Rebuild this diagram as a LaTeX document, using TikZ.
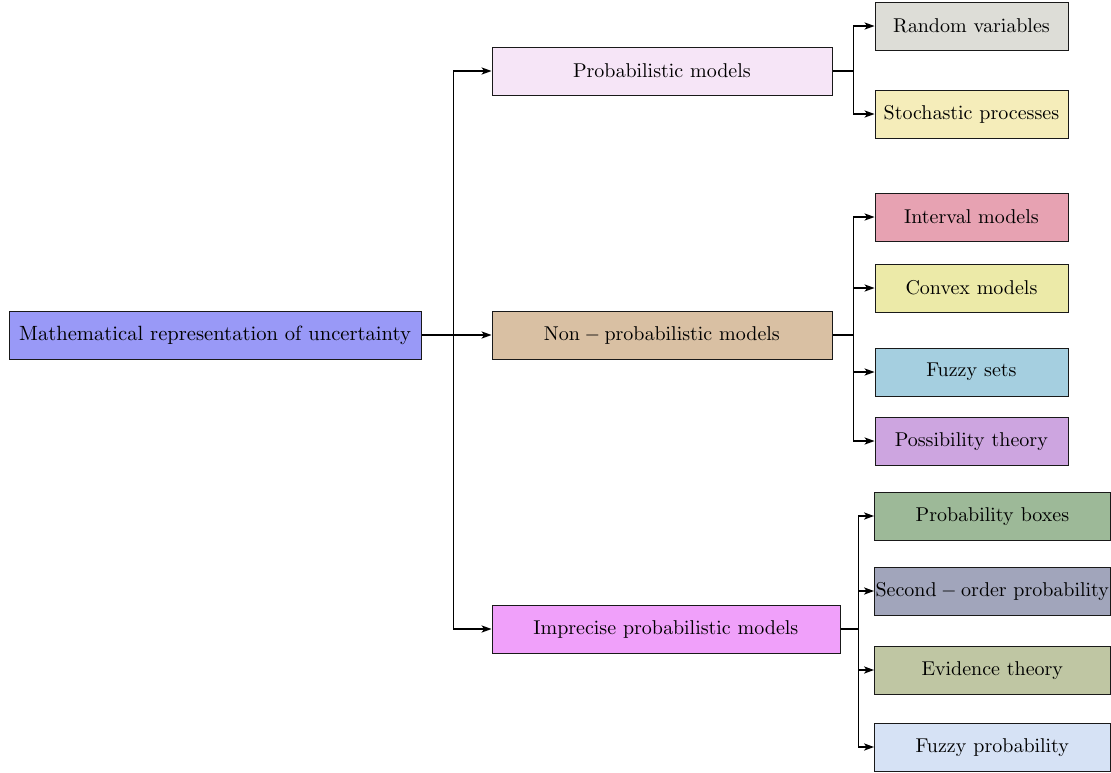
\documentclass[tikz,border=0pt]{standalone}
\usetikzlibrary{arrows.meta}
\definecolor{cRoot}{RGB}{153,153,247}
\definecolor{cProb}{RGB}{246,229,247}
\definecolor{cNon}{RGB}{217,192,163}
\definecolor{cImp}{RGB}{240,160,250}
\definecolor{cRand}{RGB}{221,221,215}
\definecolor{cStoch}{RGB}{245,237,186}
\definecolor{cInt}{RGB}{231,162,178}
\definecolor{cConv}{RGB}{236,234,168}
\definecolor{cFuzz}{RGB}{165,207,224}
\definecolor{cPoss}{RGB}{205,165,224}
\definecolor{cPbox}{RGB}{157,185,152}
\definecolor{cSec}{RGB}{161,165,187}
\definecolor{cEvid}{RGB}{191,198,163}
\definecolor{cFprob}{RGB}{214,226,245}
\tikzset{
  box/.style={draw=black!90, line width=0.5pt, rectangle, inner sep=0pt,
    minimum height=24pt, font=\fontsize{10.3}{12}\selectfont},
  midbox/.style={box, minimum width=170pt},
  leafbox/.style={box, minimum width=96.5pt},
  leafwide/.style={box, minimum width=118pt},
  link/.style={line width=0.55pt},
  arr/.style={line width=0.55pt, -{Stealth[length=5pt,width=3.6pt,inset=1.3pt]}}
}
\begin{document}
\begin{tikzpicture}[x=0.5pt,y=-0.5pt]
\useasboundingbox (0,0) rectangle (1111,772);

% root and second level
\node[box, fill=cRoot, minimum width=206pt] (root) at (215,335)
  {Mathematical representation of uncertainty};
\node[midbox, fill=cProb] (pm) at (662,71) {$\mathrm{Probabilistic\ models}$};
\node[midbox, fill=cNon] (np) at (662,335) {$\mathrm{Non-probabilistic\ models}$};
\node[box, fill=cImp, minimum width=174pt] (ip) at (666,629)
  {$\mathrm{Imprecise\ probabilistic\ models}$};

% leaves of the probabilistic branch
\node[leafbox, fill=cRand] (rv) at (971.5,26) {$\mathrm{Random\ variables}$};
\node[leafbox, fill=cStoch] (sp) at (971.5,114) {$\mathrm{Stochastic\ processes}$};

% leaves of the non-probabilistic branch
\node[leafbox, fill=cInt] (iv) at (971.5,217) {$\mathrm{Interval\ models}$};
\node[leafbox, fill=cConv] (cv) at (971.5,288) {$\mathrm{Convex\ models}$};
\node[leafbox, fill=cFuzz] (fs) at (971.5,372) {$\mathrm{Fuzzy\ sets}$};
\node[leafbox, fill=cPoss] (pt) at (971.5,441) {$\mathrm{Possibility\ theory}$};

% leaves of the imprecise branch; the long label fills the box edge to edge
\node[leafwide, fill=cPbox] (pb) at (992.5,516) {$\mathrm{Probability\ boxes}$};
\node[leafwide, fill=cSec] (so) at (992.5,591)
  {\makebox[0pt][c]{\fontsize{10}{12}\selectfont$\mathrm{Second-order\ probability}$}};
\node[leafwide, fill=cEvid] (et) at (992.5,670) {$\mathrm{Evidence\ theory}$};
\node[leafwide, fill=cFprob] (fp) at (992.5,747) {$\mathrm{Fuzzy\ probability}$};

% branching points
\coordinate (f0) at ([xshift=16pt]root.east);
\coordinate (f1) at ([xshift=10.5pt]pm.east);
\coordinate (f2) at ([xshift=10.5pt]np.east);
\coordinate (f3) at ([xshift=9pt]ip.east);

% root to second level
\draw[link] (root.east) -- (f0);
\draw[arr] (f0) |- (pm.west);
\draw[arr] (f0) -- (np.west);
\draw[arr] (f0) |- (ip.west);

% probabilistic branch
\draw[link] (pm.east) -- (f1);
\draw[arr] (f1) |- (rv.west);
\draw[arr] (f1) |- (sp.west);

% non-probabilistic branch
\draw[link] (np.east) -- (f2);
\draw[arr] (f2) |- (iv.west);
\draw[arr] (f2) |- (cv.west);
\draw[arr] (f2) |- (fs.west);
\draw[arr] (f2) |- (pt.west);

% imprecise branch
\draw[link] (ip.east) -- (f3);
\draw[arr] (f3) |- (pb.west);
\draw[arr] (f3) |- (so.west);
\draw[arr] (f3) |- (et.west);
\draw[arr] (f3) |- (fp.west);
\end{tikzpicture}
\end{document}
